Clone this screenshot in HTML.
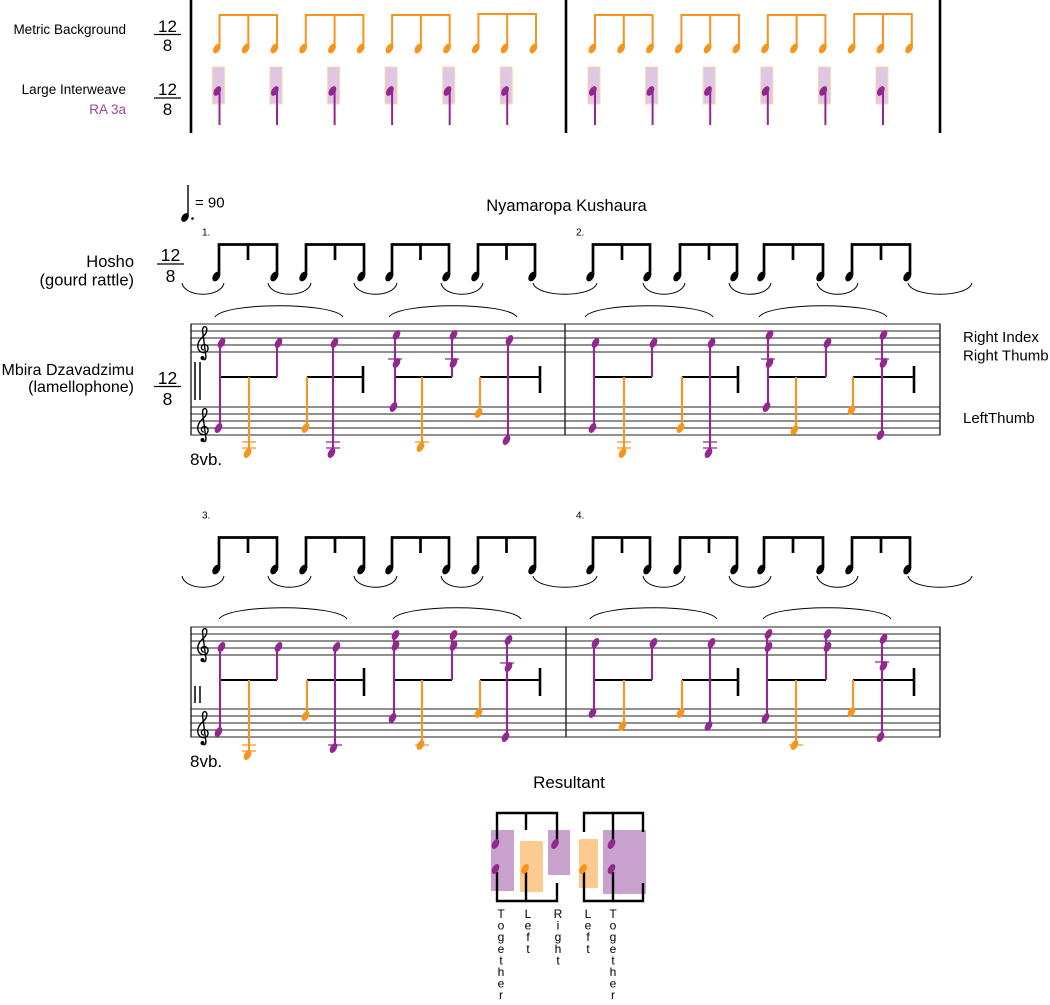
<!DOCTYPE html>
<html><head><meta charset="utf-8"><style>
html,body{margin:0;padding:0;background:#fff;}
svg{display:block;font-family:"Liberation Sans",Arial,sans-serif;}
</style></head><body>
<svg width="1050" height="1005" viewBox="0 0 1050 1005" xmlns="http://www.w3.org/2000/svg">
<rect width="1050" height="1005" fill="#fff"/>

<!-- ===== TOP SECTION ===== -->
<text x="126" y="34" text-anchor="end" font-size="13.5">Metric Background</text>
<text x="126" y="94" text-anchor="end" font-size="13.5">Large Interweave</text>
<text x="126" y="114" text-anchor="end" font-size="13.5" fill="#a0449c">RA 3a</text>
<g font-size="17" text-anchor="middle"><text x="167.5" y="32">12</text><text x="167.5" y="51">8</text><text x="167.5" y="95">12</text><text x="167.5" y="115">8</text></g>
<line x1="154" y1="34.5" x2="181" y2="34.5" stroke="#000" stroke-width="1.3"/>
<line x1="154" y1="98" x2="181" y2="98" stroke="#000" stroke-width="1.3"/>
<g stroke="#000" stroke-width="2.6"><line x1="191" y1="0" x2="191" y2="133"/><line x1="566" y1="0" x2="566" y2="133"/><line x1="940" y1="0" x2="940" y2="133"/></g>

<g stroke="#f7941d" stroke-width="2" fill="none">
<path d="M219.5 47V15H277V47M248.3 15V47"/>
<path d="M305.8 47V15H363.4V47M334.6 15V47"/>
<path d="M392.1 47V15H449.7V47M420.9 15V47"/>
<path d="M478.4 47V14H536V47M507.2 14V47"/>
<path d="M595 47V15H652.6V47M623.8 15V47"/>
<path d="M681.4 47V15H739V47M710.2 15V47"/>
<path d="M767.8 47V15H825.4V47M796.6 15V47"/>
<path d="M854.2 47V14H911.8V47M883 14V47"/>
</g>
<g fill="#f7941d">
<ellipse transform="translate(216.9 48.5) rotate(-58)" rx="5.3" ry="3.2"/>
<ellipse transform="translate(245.7 48.5) rotate(-58)" rx="5.3" ry="3.2"/>
<ellipse transform="translate(274.4 48.5) rotate(-58)" rx="5.3" ry="3.2"/>
<ellipse transform="translate(303.2 48.5) rotate(-58)" rx="5.3" ry="3.2"/>
<ellipse transform="translate(332 48.5) rotate(-58)" rx="5.3" ry="3.2"/>
<ellipse transform="translate(360.8 48.5) rotate(-58)" rx="5.3" ry="3.2"/>
<ellipse transform="translate(389.5 48.5) rotate(-58)" rx="5.3" ry="3.2"/>
<ellipse transform="translate(418.3 48.5) rotate(-58)" rx="5.3" ry="3.2"/>
<ellipse transform="translate(447.1 48.5) rotate(-58)" rx="5.3" ry="3.2"/>
<ellipse transform="translate(475.8 48.5) rotate(-58)" rx="5.3" ry="3.2"/>
<ellipse transform="translate(504.6 48.5) rotate(-58)" rx="5.3" ry="3.2"/>
<ellipse transform="translate(533.4 48.5) rotate(-58)" rx="5.3" ry="3.2"/>
<ellipse transform="translate(592.4 48.5) rotate(-58)" rx="5.3" ry="3.2"/>
<ellipse transform="translate(621.2 48.5) rotate(-58)" rx="5.3" ry="3.2"/>
<ellipse transform="translate(650 48.5) rotate(-58)" rx="5.3" ry="3.2"/>
<ellipse transform="translate(678.8 48.5) rotate(-58)" rx="5.3" ry="3.2"/>
<ellipse transform="translate(707.6 48.5) rotate(-58)" rx="5.3" ry="3.2"/>
<ellipse transform="translate(736.4 48.5) rotate(-58)" rx="5.3" ry="3.2"/>
<ellipse transform="translate(765.2 48.5) rotate(-58)" rx="5.3" ry="3.2"/>
<ellipse transform="translate(794 48.5) rotate(-58)" rx="5.3" ry="3.2"/>
<ellipse transform="translate(822.8 48.5) rotate(-58)" rx="5.3" ry="3.2"/>
<ellipse transform="translate(851.6 48.5) rotate(-58)" rx="5.3" ry="3.2"/>
<ellipse transform="translate(880.4 48.5) rotate(-58)" rx="5.3" ry="3.2"/>
<ellipse transform="translate(909.2 48.5) rotate(-58)" rx="5.3" ry="3.2"/>
</g>
<g fill="#dfc7e3" stroke="#fcd7ab" stroke-width="1">
<rect x="212.5" y="67" width="12" height="37"/><rect x="270" y="67" width="12" height="37"/>
<rect x="327.6" y="67" width="12" height="37"/><rect x="385.1" y="67" width="12" height="37"/>
<rect x="442.7" y="67" width="12" height="37"/><rect x="500.2" y="67" width="12" height="37"/>
<rect x="588" y="67" width="12" height="37"/><rect x="645.6" y="67" width="12" height="37"/>
<rect x="703.2" y="67" width="12" height="37"/><rect x="760.8" y="67" width="12" height="37"/>
<rect x="818.4" y="67" width="12" height="37"/><rect x="876" y="67" width="12" height="37"/>
</g>
<g stroke="#92278f" stroke-width="2">
<path d="M219.5 90V125M277 90V125M334.6 90V125M392.1 90V125M449.7 90V125M507.2 90V125M595 90V125M652.6 90V125M710.2 90V125M767.8 90V125M825.4 90V125M883 90V125"/>
</g>
<g fill="#92278f">
<ellipse transform="translate(217.3 91) rotate(-58)" rx="5.3" ry="3.2"/>
<ellipse transform="translate(274.8 91) rotate(-58)" rx="5.3" ry="3.2"/>
<ellipse transform="translate(332.4 91) rotate(-58)" rx="5.3" ry="3.2"/>
<ellipse transform="translate(389.9 91) rotate(-58)" rx="5.3" ry="3.2"/>
<ellipse transform="translate(447.5 91) rotate(-58)" rx="5.3" ry="3.2"/>
<ellipse transform="translate(505 91) rotate(-58)" rx="5.3" ry="3.2"/>
<ellipse transform="translate(592.8 91) rotate(-58)" rx="5.3" ry="3.2"/>
<ellipse transform="translate(650.4 91) rotate(-58)" rx="5.3" ry="3.2"/>
<ellipse transform="translate(708 91) rotate(-58)" rx="5.3" ry="3.2"/>
<ellipse transform="translate(765.6 91) rotate(-58)" rx="5.3" ry="3.2"/>
<ellipse transform="translate(823.2 91) rotate(-58)" rx="5.3" ry="3.2"/>
<ellipse transform="translate(880.8 91) rotate(-58)" rx="5.3" ry="3.2"/>
</g>

<!-- ===== TEMPO / TITLE ===== -->
<line x1="188" y1="185" x2="188" y2="216" stroke="#000" stroke-width="1.4"/>
<ellipse transform="translate(185 217.5) rotate(-55)" rx="4.8" ry="3.2"/>
<circle cx="192.5" cy="218.5" r="1.3"/>
<text x="195" y="207.5" font-size="15">= 90</text>
<text x="566.5" y="211" font-size="16.5" text-anchor="middle">Nyamaropa Kushaura</text>

<!-- ===== HOSHO SECTION 1 ===== -->
<text x="134" y="267" text-anchor="end" font-size="16.5">Hosho</text>
<text x="134" y="285.5" text-anchor="end" font-size="16.5">(gourd rattle)</text>
<g font-size="17.5" text-anchor="middle"><text x="170.5" y="261">12</text><text x="170.5" y="282">8</text></g>
<line x1="157" y1="264" x2="184" y2="264" stroke="#000" stroke-width="1.3"/>
<text x="202" y="235.5" font-size="10">1.</text>
<text x="576" y="235.5" font-size="10">2.</text>
<g stroke="#000" stroke-width="2.7" fill="none">
<path d="M219 275V244.5H277V275M248 244.5V260"/>
<path d="M306 275V244.5H364V275M335 244.5V260"/>
<path d="M392 275V244.5H449V275M420.5 244.5V260"/>
<path d="M478 275V244.5H535V275M506.5 244.5V260"/>
<path d="M593 275V244.5H650V275M622 244.5V260"/>
<path d="M680 275V244.5H737V275M709 244.5V260"/>
<path d="M764 275V244.5H823V275M793 244.5V260"/>
<path d="M852 275V244.5H910V275M881 244.5V260"/>
</g>
<g>
<ellipse transform="translate(216.3 276.5) rotate(-58)" rx="5.3" ry="3.4"/>
<ellipse transform="translate(274.3 276.5) rotate(-58)" rx="5.3" ry="3.4"/>
<ellipse transform="translate(303.3 276.5) rotate(-58)" rx="5.3" ry="3.4"/>
<ellipse transform="translate(361.3 276.5) rotate(-58)" rx="5.3" ry="3.4"/>
<ellipse transform="translate(389.3 276.5) rotate(-58)" rx="5.3" ry="3.4"/>
<ellipse transform="translate(446.3 276.5) rotate(-58)" rx="5.3" ry="3.4"/>
<ellipse transform="translate(475.3 276.5) rotate(-58)" rx="5.3" ry="3.4"/>
<ellipse transform="translate(532.3 276.5) rotate(-58)" rx="5.3" ry="3.4"/>
<ellipse transform="translate(590.3 276.5) rotate(-58)" rx="5.3" ry="3.4"/>
<ellipse transform="translate(647.3 276.5) rotate(-58)" rx="5.3" ry="3.4"/>
<ellipse transform="translate(677.3 276.5) rotate(-58)" rx="5.3" ry="3.4"/>
<ellipse transform="translate(734.3 276.5) rotate(-58)" rx="5.3" ry="3.4"/>
<ellipse transform="translate(761.3 276.5) rotate(-58)" rx="5.3" ry="3.4"/>
<ellipse transform="translate(820.3 276.5) rotate(-58)" rx="5.3" ry="3.4"/>
<ellipse transform="translate(849.3 276.5) rotate(-58)" rx="5.3" ry="3.4"/>
<ellipse transform="translate(907.3 276.5) rotate(-58)" rx="5.3" ry="3.4"/>
</g>
<g stroke="#000" stroke-width="1" fill="none">
<path d="M182 283C185 298 221 298 224 283"/>
<path d="M268 283C271 298 308 298 311 283"/>
<path d="M354 283C357 298 394 298 397 283"/>
<path d="M441 283C444 298 480 298 483 283"/>
<path d="M533 283C537 298 593 298 597 283"/>
<path d="M643 283C646 298 682 298 685 283"/>
<path d="M729 283C732 298 768 298 771 283"/>
<path d="M817 283C820 298 855 298 858 283"/>
<path d="M908 283C912 298 968 298 972 283"/>
<path d="M215 317C225 302 333 302 343 317"/>
<path d="M389 317C399 302 507 302 517 317"/>
<path d="M585 317C595 302 703 302 713 317"/>
<path d="M759 317C769 302 877 302 887 317"/>
</g>

<!-- ===== MBIRA SECTION 1 ===== -->
<text x="134" y="375" text-anchor="end" font-size="16">Mbira Dzavadzimu</text>
<text x="134" y="392" text-anchor="end" font-size="16">(lamellophone)</text>
<g font-size="17.5" text-anchor="middle"><text x="167.5" y="384">12</text><text x="167.5" y="405">8</text></g>
<line x1="154" y1="386.5" x2="181" y2="386.5" stroke="#000" stroke-width="1.3"/>
<text x="963" y="342" font-size="15">Right Index</text>
<text x="963" y="360.5" font-size="15">Right Thumb</text>
<text x="963" y="423" font-size="15">LeftThumb</text>
<text x="190" y="465" font-size="17">8vb.</text>

<g stroke="#222" stroke-width="1.1">
<path d="M191 324H940M191 331H940M191 338H940M191 345H940M191 352H940M191 407H940M191 414H940M191 421H940M191 428H940M191 435H940"/>
<path d="M191 323.5V435.5M565 323.5V435.5M940 323.5V435.5" stroke-width="1.4"/>
<path d="M195 362V400M200 362V400" stroke="#000" stroke-width="1.5"/>
</g>
<g transform="translate(196 326)"><path d="M7.2 33.5C9.6 34.2 10.6 31.6 9.6 28.5L6.6 5C6.2 1.5 8.2 0 9.6 0.8C11.6 2 11 6.5 8.6 9C5.6 12 1.6 15 1.8 20.5C2 25 5.5 27.2 8.8 26.5C12.2 25.8 13 21.5 10.8 19.5C8.8 17.8 5.4 18.5 5.4 21.3C5.4 23 6.5 24 7.8 24" fill="none" stroke="#000" stroke-width="1.4"/><circle cx="6.5" cy="32" r="2"/></g>
<g transform="translate(196 408)"><path d="M7.2 33.5C9.6 34.2 10.6 31.6 9.6 28.5L6.6 5C6.2 1.5 8.2 0 9.6 0.8C11.6 2 11 6.5 8.6 9C5.6 12 1.6 15 1.8 20.5C2 25 5.5 27.2 8.8 26.5C12.2 25.8 13 21.5 10.8 19.5C8.8 17.8 5.4 18.5 5.4 21.3C5.4 23 6.5 24 7.8 24" fill="none" stroke="#000" stroke-width="1.4"/><circle cx="6.5" cy="32" r="2"/></g>

<g stroke="#000" stroke-width="2" fill="none">
<path d="M220 377H277M307 377H363M395 377H452M480 377H540M594 377H652M682 377H738M768 377H826M853 377H914"/>
<path d="M363 366V393M540 366V393M738 366V393M914 366V393" stroke-width="2.6"/>
</g>
<g stroke="#92278f" stroke-width="2.1" fill="none">
<path d="M220 343V428M277 343V377M333 343V453M395 335V407M452 335V377M508 340V440M594 343V428M652 343V377M710 343V453M768 335V407M826 343V377M882 335V435"/>
<path d="M326 442H340M326 448H340M388 359H402M445 359H459M703 442H717M703 448H717M761 359H775M875 359H889" stroke-width="1.2"/>
</g>
<g stroke="#f7941d" stroke-width="2.1" fill="none">
<path d="M249 377V453M307 377V428M422 377V447M480 377V413M624 377V453M682 377V428M796 377V430M853 377V410"/>
<path d="M242 442H256M242 448H256M415 442H429M617 442H631M617 448H631" stroke-width="1.2"/>
</g>
<g fill="#92278f">
<ellipse transform="translate(221.5 343) rotate(-60)" rx="5.4" ry="3.2"/>
<ellipse transform="translate(278.5 343) rotate(-60)" rx="5.4" ry="3.2"/>
<ellipse transform="translate(334.5 343) rotate(-60)" rx="5.4" ry="3.2"/>
<ellipse transform="translate(396.5 335) rotate(-60)" rx="5.4" ry="3.2"/>
<ellipse transform="translate(396.5 363) rotate(-60)" rx="5.4" ry="3.2"/>
<ellipse transform="translate(453.5 335) rotate(-60)" rx="5.4" ry="3.2"/>
<ellipse transform="translate(453.5 363) rotate(-60)" rx="5.4" ry="3.2"/>
<ellipse transform="translate(509.5 340) rotate(-60)" rx="5.4" ry="3.2"/>
<ellipse transform="translate(595.5 343) rotate(-60)" rx="5.4" ry="3.2"/>
<ellipse transform="translate(653.5 343) rotate(-60)" rx="5.4" ry="3.2"/>
<ellipse transform="translate(711.5 343) rotate(-60)" rx="5.4" ry="3.2"/>
<ellipse transform="translate(769.5 335) rotate(-60)" rx="5.4" ry="3.2"/>
<ellipse transform="translate(769.5 363) rotate(-60)" rx="5.4" ry="3.2"/>
<ellipse transform="translate(827.5 343) rotate(-60)" rx="5.4" ry="3.2"/>
<ellipse transform="translate(883.5 335) rotate(-60)" rx="5.4" ry="3.2"/>
<ellipse transform="translate(883.5 363) rotate(-60)" rx="5.4" ry="3.2"/>
<ellipse transform="translate(218.5 428) rotate(-60)" rx="5.4" ry="3.2"/>
<ellipse transform="translate(331.5 453) rotate(-60)" rx="5.4" ry="3.2"/>
<ellipse transform="translate(393.5 407) rotate(-60)" rx="5.4" ry="3.2"/>
<ellipse transform="translate(506.5 440) rotate(-60)" rx="5.4" ry="3.2"/>
<ellipse transform="translate(592.5 428) rotate(-60)" rx="5.4" ry="3.2"/>
<ellipse transform="translate(708.5 453) rotate(-60)" rx="5.4" ry="3.2"/>
<ellipse transform="translate(766.5 407) rotate(-60)" rx="5.4" ry="3.2"/>
<ellipse transform="translate(880.5 435) rotate(-60)" rx="5.4" ry="3.2"/>
</g>
<g fill="#f7941d">
<ellipse transform="translate(247.5 453) rotate(-60)" rx="5.4" ry="3.2"/>
<ellipse transform="translate(305.5 428) rotate(-60)" rx="5.4" ry="3.2"/>
<ellipse transform="translate(420.5 447) rotate(-60)" rx="5.4" ry="3.2"/>
<ellipse transform="translate(478.5 413) rotate(-60)" rx="5.4" ry="3.2"/>
<ellipse transform="translate(622.5 453) rotate(-60)" rx="5.4" ry="3.2"/>
<ellipse transform="translate(680.5 428) rotate(-60)" rx="5.4" ry="3.2"/>
<ellipse transform="translate(794.5 430) rotate(-60)" rx="5.4" ry="3.2"/>
<ellipse transform="translate(851.5 410) rotate(-60)" rx="5.4" ry="3.2"/>
</g>

<!-- ===== HOSHO SECTION 3 ===== -->
<text x="202" y="518.5" font-size="10">3.</text>
<text x="576" y="518.5" font-size="10">4.</text>
<g stroke="#000" stroke-width="2.7" fill="none">
<path d="M219 568V537.5H277V568M248 537.5V553"/>
<path d="M306 568V537.5H364V568M335 537.5V553"/>
<path d="M392 568V537.5H449V568M420.5 537.5V553"/>
<path d="M478 568V537.5H535V568M506.5 537.5V553"/>
<path d="M593 568V537.5H650V568M622 537.5V553"/>
<path d="M680 568V537.5H737V568M709 537.5V553"/>
<path d="M764 568V537.5H823V568M793 537.5V553"/>
<path d="M852 568V537.5H910V568M881 537.5V553"/>
</g>
<g>
<ellipse transform="translate(216.3 569.5) rotate(-58)" rx="5.3" ry="3.4"/>
<ellipse transform="translate(274.3 569.5) rotate(-58)" rx="5.3" ry="3.4"/>
<ellipse transform="translate(303.3 569.5) rotate(-58)" rx="5.3" ry="3.4"/>
<ellipse transform="translate(361.3 569.5) rotate(-58)" rx="5.3" ry="3.4"/>
<ellipse transform="translate(389.3 569.5) rotate(-58)" rx="5.3" ry="3.4"/>
<ellipse transform="translate(446.3 569.5) rotate(-58)" rx="5.3" ry="3.4"/>
<ellipse transform="translate(475.3 569.5) rotate(-58)" rx="5.3" ry="3.4"/>
<ellipse transform="translate(532.3 569.5) rotate(-58)" rx="5.3" ry="3.4"/>
<ellipse transform="translate(590.3 569.5) rotate(-58)" rx="5.3" ry="3.4"/>
<ellipse transform="translate(647.3 569.5) rotate(-58)" rx="5.3" ry="3.4"/>
<ellipse transform="translate(677.3 569.5) rotate(-58)" rx="5.3" ry="3.4"/>
<ellipse transform="translate(734.3 569.5) rotate(-58)" rx="5.3" ry="3.4"/>
<ellipse transform="translate(761.3 569.5) rotate(-58)" rx="5.3" ry="3.4"/>
<ellipse transform="translate(820.3 569.5) rotate(-58)" rx="5.3" ry="3.4"/>
<ellipse transform="translate(849.3 569.5) rotate(-58)" rx="5.3" ry="3.4"/>
<ellipse transform="translate(907.3 569.5) rotate(-58)" rx="5.3" ry="3.4"/>
</g>
<g stroke="#000" stroke-width="1" fill="none">
<path d="M182 576C185 591 221 591 224 576"/>
<path d="M268 576C271 591 308 591 311 576"/>
<path d="M354 576C357 591 394 591 397 576"/>
<path d="M441 576C444 591 480 591 483 576"/>
<path d="M533 576C537 591 593 591 597 576"/>
<path d="M643 576C646 591 682 591 685 576"/>
<path d="M729 576C732 591 768 591 771 576"/>
<path d="M817 576C820 591 855 591 858 576"/>
<path d="M908 576C912 591 968 591 972 576"/>
<path d="M219 619C229 604 337 604 347 619"/>
<path d="M393 619C403 604 511 604 521 619"/>
<path d="M590 619C600 604 707 604 717 619"/>
<path d="M763 619C773 604 881 604 891 619"/>
</g>

<!-- ===== MBIRA SECTION 3 ===== -->
<text x="190" y="767" font-size="17">8vb.</text>
<g stroke="#222" stroke-width="1.1">
<path d="M191 627H940M191 634H940M191 641H940M191 648H940M191 655H940M191 709H940M191 716H940M191 723H940M191 730H940M191 737H940"/>
<path d="M191 626.5V737.5M566 626.5V737.5M940 626.5V737.5" stroke-width="1.4"/>
<path d="M195 686V703M200 686V703" stroke="#000" stroke-width="1.5"/>
</g>
<g transform="translate(196 628)"><path d="M7.2 33.5C9.6 34.2 10.6 31.6 9.6 28.5L6.6 5C6.2 1.5 8.2 0 9.6 0.8C11.6 2 11 6.5 8.6 9C5.6 12 1.6 15 1.8 20.5C2 25 5.5 27.2 8.8 26.5C12.2 25.8 13 21.5 10.8 19.5C8.8 17.8 5.4 18.5 5.4 21.3C5.4 23 6.5 24 7.8 24" fill="none" stroke="#000" stroke-width="1.4"/><circle cx="6.5" cy="32" r="2"/></g>
<g transform="translate(196 711)"><path d="M7.2 33.5C9.6 34.2 10.6 31.6 9.6 28.5L6.6 5C6.2 1.5 8.2 0 9.6 0.8C11.6 2 11 6.5 8.6 9C5.6 12 1.6 15 1.8 20.5C2 25 5.5 27.2 8.8 26.5C12.2 25.8 13 21.5 10.8 19.5C8.8 17.8 5.4 18.5 5.4 21.3C5.4 23 6.5 24 7.8 24" fill="none" stroke="#000" stroke-width="1.4"/><circle cx="6.5" cy="32" r="2"/></g>

<g stroke="#000" stroke-width="2" fill="none">
<path d="M220 680H277M307 680H364M394 680H452M480 680H540M594 680H652M682 680H738M767 680H826M853 680H914"/>
<path d="M364 668V696M540 668V696M738 668V696M914 668V696" stroke-width="2.6"/>
</g>
<g stroke="#92278f" stroke-width="2.1" fill="none">
<path d="M220 647V732M277 647V680M335 647V748M394 635V718M452 635V680M507 640V737M594 643V713M652 643V680M710 643V726M767 634V718M826 634V680M882 639V737"/>
<path d="M328 745H342M500 663H514M875 662H889" stroke-width="1.2"/>
</g>
<g stroke="#f7941d" stroke-width="2.1" fill="none">
<path d="M249 680V755M307 680V716M422 680V745M480 680V713M624 680V726M682 680V713M796 680V745M853 680V712"/>
<path d="M242 745H256M242 751H256M415 745H429M789 745H803" stroke-width="1.2"/>
</g>
<g fill="#92278f">
<ellipse transform="translate(221.5 647) rotate(-60)" rx="5.4" ry="3.2"/>
<ellipse transform="translate(278.5 647) rotate(-60)" rx="5.4" ry="3.2"/>
<ellipse transform="translate(336.5 647) rotate(-60)" rx="5.4" ry="3.2"/>
<ellipse transform="translate(395.5 635) rotate(-60)" rx="5.4" ry="3.2"/>
<ellipse transform="translate(395.5 646) rotate(-60)" rx="5.4" ry="3.2"/>
<ellipse transform="translate(453.5 635) rotate(-60)" rx="5.4" ry="3.2"/>
<ellipse transform="translate(453.5 646) rotate(-60)" rx="5.4" ry="3.2"/>
<ellipse transform="translate(508.5 640) rotate(-60)" rx="5.4" ry="3.2"/>
<ellipse transform="translate(508.5 667) rotate(-60)" rx="5.4" ry="3.2"/>
<ellipse transform="translate(595.5 643) rotate(-60)" rx="5.4" ry="3.2"/>
<ellipse transform="translate(653.5 643) rotate(-60)" rx="5.4" ry="3.2"/>
<ellipse transform="translate(711.5 643) rotate(-60)" rx="5.4" ry="3.2"/>
<ellipse transform="translate(768.5 634) rotate(-60)" rx="5.4" ry="3.2"/>
<ellipse transform="translate(768.5 647) rotate(-60)" rx="5.4" ry="3.2"/>
<ellipse transform="translate(827.5 634) rotate(-60)" rx="5.4" ry="3.2"/>
<ellipse transform="translate(827.5 647) rotate(-60)" rx="5.4" ry="3.2"/>
<ellipse transform="translate(883.5 639) rotate(-60)" rx="5.4" ry="3.2"/>
<ellipse transform="translate(883.5 666) rotate(-60)" rx="5.4" ry="3.2"/>
<ellipse transform="translate(218.5 732) rotate(-60)" rx="5.4" ry="3.2"/>
<ellipse transform="translate(333.5 748) rotate(-60)" rx="5.4" ry="3.2"/>
<ellipse transform="translate(392.5 718) rotate(-60)" rx="5.4" ry="3.2"/>
<ellipse transform="translate(505.5 737) rotate(-60)" rx="5.4" ry="3.2"/>
<ellipse transform="translate(592.5 713) rotate(-60)" rx="5.4" ry="3.2"/>
<ellipse transform="translate(708.5 726) rotate(-60)" rx="5.4" ry="3.2"/>
<ellipse transform="translate(765.5 718) rotate(-60)" rx="5.4" ry="3.2"/>
<ellipse transform="translate(880.5 737) rotate(-60)" rx="5.4" ry="3.2"/>
</g>
<g fill="#f7941d">
<ellipse transform="translate(247.5 755) rotate(-60)" rx="5.4" ry="3.2"/>
<ellipse transform="translate(305.5 716) rotate(-60)" rx="5.4" ry="3.2"/>
<ellipse transform="translate(420.5 745) rotate(-60)" rx="5.4" ry="3.2"/>
<ellipse transform="translate(478.5 713) rotate(-60)" rx="5.4" ry="3.2"/>
<ellipse transform="translate(622.5 726) rotate(-60)" rx="5.4" ry="3.2"/>
<ellipse transform="translate(680.5 713) rotate(-60)" rx="5.4" ry="3.2"/>
<ellipse transform="translate(794.5 745) rotate(-60)" rx="5.4" ry="3.2"/>
<ellipse transform="translate(851.5 712) rotate(-60)" rx="5.4" ry="3.2"/>
</g>

<!-- ===== RESULTANT ===== -->
<text x="569" y="788" font-size="17" text-anchor="middle">Resultant</text>
<rect x="491" y="830" width="23" height="61" fill="#c9a1cd"/>
<rect x="520" y="841" width="23" height="51" fill="#fdca8f"/>
<rect x="548" y="830" width="22" height="45" fill="#c9a1cd"/>
<rect x="579" y="839" width="19" height="49" fill="#fdca8f"/>
<rect x="603" y="830" width="43" height="64" fill="#c9a1cd"/>
<g stroke="#000" stroke-width="2.4" fill="none">
<path d="M497 840V813H557V840M526 813V830"/>
<path d="M497 872V901H557V883M526 872V901"/>
<path d="M584 832V813H643V832M613 813V840"/>
<path d="M584 872V901H643V883M613 872V901"/>
</g>
<g fill="#92278f">
<ellipse transform="translate(495.5 844) rotate(-60)" rx="5.4" ry="3.2"/>
<ellipse transform="translate(495.5 869) rotate(-60)" rx="5.4" ry="3.2"/>
<ellipse transform="translate(555 844) rotate(-60)" rx="5.4" ry="3.2"/>
<ellipse transform="translate(611.5 844) rotate(-60)" rx="5.4" ry="3.2"/>
<ellipse transform="translate(611.5 869) rotate(-60)" rx="5.4" ry="3.2"/>
</g>
<g fill="#f7941d">
<ellipse transform="translate(525 869) rotate(-60)" rx="5.4" ry="3.2"/>
<ellipse transform="translate(583 869) rotate(-60)" rx="5.4" ry="3.2"/>
</g>
<g font-size="12" text-anchor="middle">
<text x="501" y="918">T</text><text x="501" y="929.6">o</text><text x="501" y="941.2">g</text><text x="501" y="952.8">e</text><text x="501" y="964.4">t</text><text x="501" y="976">h</text><text x="501" y="987.6">e</text><text x="501" y="999.2">r</text>
<text x="528" y="918">L</text><text x="528" y="929.6">e</text><text x="528" y="941.2">f</text><text x="528" y="952.8">t</text>
<text x="558" y="918">R</text><text x="558" y="929.6">i</text><text x="558" y="941.2">g</text><text x="558" y="952.8">h</text><text x="558" y="964.4">t</text>
<text x="588" y="918">L</text><text x="588" y="929.6">e</text><text x="588" y="941.2">f</text><text x="588" y="952.8">t</text>
<text x="613" y="918">T</text><text x="613" y="929.6">o</text><text x="613" y="941.2">g</text><text x="613" y="952.8">e</text><text x="613" y="964.4">t</text><text x="613" y="976">h</text><text x="613" y="987.6">e</text><text x="613" y="999.2">r</text>
</g>
</svg>
</body></html>
